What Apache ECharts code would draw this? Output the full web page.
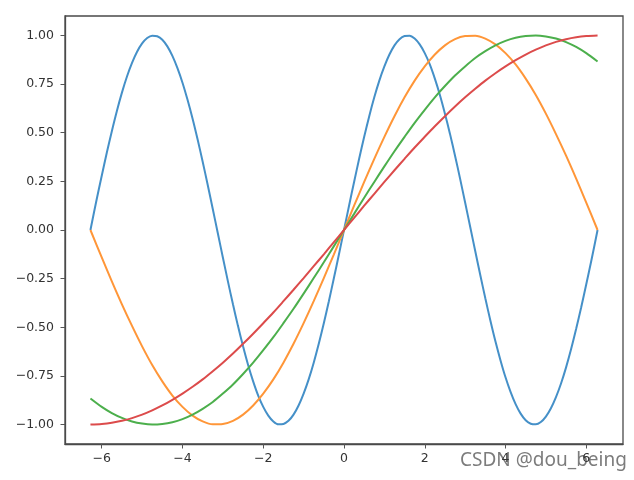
<!DOCTYPE html>
<html>
<head>
<meta charset="utf-8">
<script src="https://cdn.jsdelivr.net/npm/echarts@6/dist/echarts.min.js"></script>
<style>html,body{margin:0;padding:0;background:#fff;}#c{width:634px;height:480px;}</style>
</head>
<body>
<div id="c"></div>
<script>
// shared x grid for the slower curves
const xValues = [-6.28, -6, -5.75, -5.5, -5.25, -5, -4.75, -4.5, -4.25, -4, -3.75, -3.5, -3.25, -3, -2.75, -2.5, -2.25, -2, -1.75, -1.5, -1.25, -1, -0.75, -0.5, -0.25,
  0, 0.25, 0.5, 0.75, 1, 1.25, 1.5, 1.75, 2, 2.25, 2.5, 2.75, 3, 3.25, 3.5, 3.75, 4, 4.25, 4.5, 4.75, 5, 5.25, 5.5, 5.75, 6, 6.28];

// finer x grid for the fast (blue) curve
const blueX = [-6.28, -6.125, -6, -5.875, -5.75, -5.625, -5.5, -5.375, -5.25, -5.125, -5, -4.875, -4.75, -4.625, -4.5, -4.375, -4.25, -4.125, -4, -3.875, -3.75, -3.625, -3.5, -3.375, -3.25, -3.125,
  -3, -2.875, -2.75, -2.625, -2.5, -2.375, -2.25, -2.125, -2, -1.875, -1.75, -1.625, -1.5, -1.375, -1.25, -1.125, -1, -0.875, -0.75, -0.625, -0.5, -0.375, -0.25, -0.125,
  0, 0.125, 0.25, 0.375, 0.5, 0.625, 0.75, 0.875, 1, 1.125, 1.25, 1.375, 1.5, 1.625, 1.75, 1.875, 2, 2.125, 2.25, 2.375, 2.5, 2.625, 2.75, 2.875,
  3, 3.125, 3.25, 3.375, 3.5, 3.625, 3.75, 3.875, 4, 4.125, 4.25, 4.375, 4.5, 4.625, 4.75, 4.875, 5, 5.125, 5.25, 5.375, 5.5, 5.625, 5.75, 5.875, 6, 6.125, 6.28];

const blueValues = [0, 0.158, 0.279, 0.397, 0.508, 0.612, 0.706, 0.789, 0.859, 0.916, 0.959, 0.987, 0.999, 0.996, 0.978, 0.944, 0.895, 0.832, 0.757, 0.669, 0.572, 0.465, 0.351, 0.231, 0.108, -0.017,
  -0.141, -0.264, -0.382, -0.494, -0.598, -0.694, -0.778, -0.851, -0.909, -0.954, -0.984, -0.999, -0.997, -0.981, -0.949, -0.902, -0.841, -0.768, -0.682, -0.585, -0.479, -0.366, -0.247, -0.125,
  0, 0.125, 0.247, 0.366, 0.479, 0.585, 0.682, 0.768, 0.841, 0.902, 0.949, 0.981, 0.997, 0.999, 0.984, 0.954, 0.909, 0.851, 0.778, 0.694, 0.598, 0.494, 0.382, 0.264,
  0.141, 0.017, -0.108, -0.231, -0.351, -0.465, -0.572, -0.669, -0.757, -0.832, -0.895, -0.944, -0.978, -0.996, -0.999, -0.987, -0.959, -0.916, -0.859, -0.789, -0.706, -0.612, -0.508, -0.397, -0.279, -0.158, 0];

const orangeValues = [0, -0.141, -0.264, -0.382, -0.493, -0.598, -0.694, -0.778, -0.851, -0.909, -0.954, -0.984, -0.999, -0.997, -0.981, -0.949, -0.902, -0.841, -0.768, -0.682, -0.585, -0.479, -0.366, -0.247, -0.125,
  0, 0.125, 0.247, 0.366, 0.479, 0.585, 0.682, 0.768, 0.841, 0.902, 0.949, 0.981, 0.997, 0.999, 0.984, 0.954, 0.909, 0.851, 0.778, 0.694, 0.598, 0.493, 0.382, 0.264, 0.141, 0];

const greenValues = [-0.866, -0.909, -0.941, -0.966, -0.984, -0.995, -1.000, -0.997, -0.988, -0.972, -0.949, -0.919, -0.884, -0.841, -0.794, -0.740, -0.682, -0.618, -0.551, -0.479, -0.405, -0.327, -0.247, -0.166, -0.083,
  0, 0.083, 0.166, 0.247, 0.327, 0.405, 0.479, 0.551, 0.618, 0.682, 0.740, 0.794, 0.841, 0.884, 0.919, 0.949, 0.972, 0.988, 0.997, 1.000, 0.995, 0.984, 0.966, 0.941, 0.909, 0.866];

const redValues = [-1.000, -0.997, -0.991, -0.981, -0.967, -0.949, -0.927, -0.902, -0.873, -0.841, -0.806, -0.768, -0.726, -0.682, -0.635, -0.585, -0.533, -0.479, -0.424, -0.366, -0.307, -0.247, -0.186, -0.125, -0.062,
  0, 0.062, 0.125, 0.186, 0.247, 0.307, 0.366, 0.424, 0.479, 0.533, 0.585, 0.635, 0.682, 0.726, 0.768, 0.806, 0.841, 0.873, 0.902, 0.927, 0.949, 0.967, 0.981, 0.991, 0.997, 1.000];

const xTicks = [-6, -4, -2, 0, 2, 4, 6];
const yTicks = [-1.00, -0.75, -0.50, -0.25, 0.00, 0.25, 0.50, 0.75, 1.00];

const seriesList = [
  { xs: blueX, values: blueValues, color: '#4590c8' },
  { xs: xValues, values: orangeValues, color: '#ff9638' },
  { xs: xValues, values: greenValues, color: '#4caf4c' },
  { xs: xValues, values: redValues, color: '#dc4b4b' }
];

function fmtMinus(s) { return s.replace('-', '\u2212'); }

const chart = echarts.init(document.getElementById('c'), null, { renderer: 'canvas' });
const labelStyle = { color: '#333', fontFamily: 'DejaVu Sans', fontSize: 12.5 };
chart.setOption({
  animation: false,
  backgroundColor: '#fff',
  grid: { left: 65, top: 16, right: 11, bottom: 36, show: true, borderColor: '#4a4a4a', borderWidth: 1.3, backgroundColor: 'transparent' },
  xAxis: {
    type: 'value', min: -6.91, max: 6.91,
    axisLine: { show: true, onZero: false, lineStyle: { color: '#4a4a4a', width: 1.3 } },
    axisTick: { show: true, length: 4.5, customValues: xTicks, lineStyle: { color: '#555', width: 1 } },
    axisLabel: Object.assign({ margin: 8, customValues: xTicks, formatter: v => fmtMinus(String(v)) }, labelStyle),
    splitLine: { show: false }
  },
  yAxis: {
    type: 'value', min: -1.1, max: 1.1,
    axisLine: { show: true, onZero: false, lineStyle: { color: '#4a4a4a', width: 1.3 } },
    axisTick: { show: true, length: 4.5, customValues: yTicks, lineStyle: { color: '#555', width: 1 } },
    axisLabel: Object.assign({ margin: 11, customValues: yTicks, formatter: v => fmtMinus(Number(v).toFixed(2)) }, labelStyle),
    splitLine: { show: false }
  },
  series: seriesList.map(s => ({
    type: 'line',
    data: s.xs.map((x, i) => [x, s.values[i]]),
    showSymbol: false,
    smooth: 0.3,
    lineStyle: { color: s.color, width: 2 },
    itemStyle: { color: s.color }
  })),
  graphic: [{
    type: 'text', left: 460, top: 451,
    style: { text: 'CSDN @dou_being', fill: '#7c7c7c', font: '19px "Noto Sans"' }
  }]
});
</script>
</body>
</html>
